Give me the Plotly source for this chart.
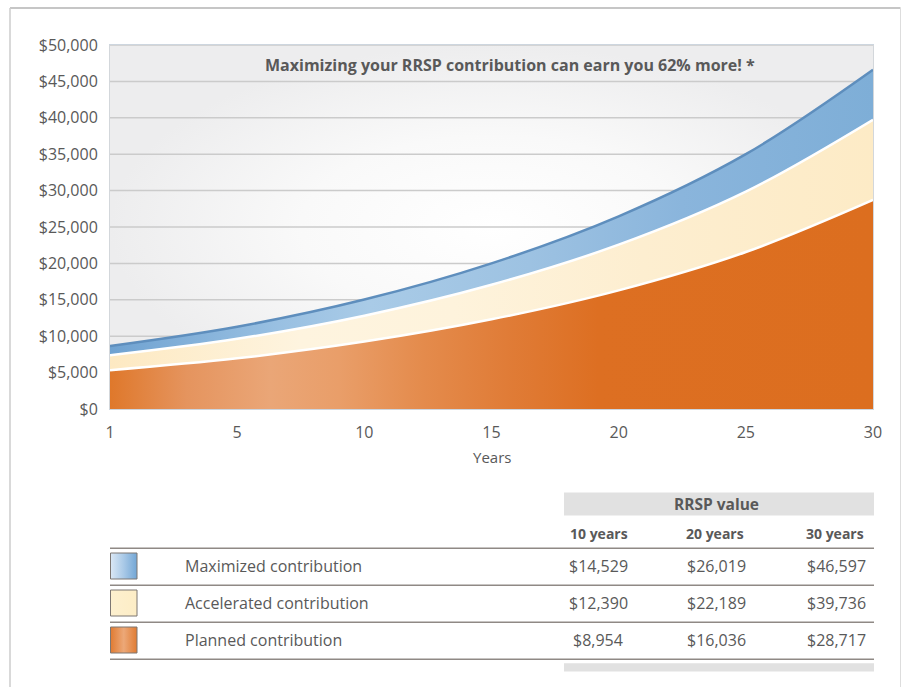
import plotly.graph_objects as go

# ---------------- data ----------------
# x positions on the axis (the first position carries the label "1")
years = [0, 5, 10, 15, 20, 25, 30]
maximized = [8650, 11300, 15030, 20000, 26460, 35000, 46597]
accelerated = [7380, 9640, 12820, 17060, 22570, 29860, 39736]
planned = [5330, 6960, 9260, 12320, 16300, 21560, 28717]

x_ticks = [0, 5, 10, 15, 20, 25, 30]
x_tick_labels = ["1", "5", "10", "15", "20", "25", "30"]
y_ticks = [0, 5000, 10000, 15000, 20000, 25000, 30000, 35000, 40000, 45000, 50000]

row_names = ["Maximized contribution", "Accelerated contribution", "Planned contribution"]
col_names = ["10 years", "20 years", "30 years"]
table_values = [
    [14529, 26019, 46597],
    [12390, 22189, 39736],
    [8954, 16036, 28717],
]
title_text = "Maximizing your RRSP contribution can earn you 62% more! *"

# ---------------- geometry (layout only) ----------------
W, H = 902, 687
PL, PR, PT, PB = 110, 873, 45, 409   # plot area in pixels


def px(x):
    return x / W


def py(y):
    return 1 - y / H


FONT = "Open Sans"
TXT = "#595959"

fig = go.Figure()

# background gradient of plot area
fig.add_trace(go.Scatter(
    x=[x_ticks[0], x_ticks[-1], x_ticks[-1], x_ticks[0], x_ticks[0]],
    y=[y_ticks[0], y_ticks[0], y_ticks[-1], y_ticks[-1], y_ticks[0]],
    mode="none", fill="toself",
    fillgradient=dict(type="radial",
                      colorscale=[[0, "#ffffff"], [0.5, "#f9f9f9"], [1, "#ededee"]]),
    hoverinfo="skip", showlegend=False, xaxis="x", yaxis="y",
))

# gridlines (beneath the areas)
gx, gy = [], []
for v in y_ticks[1:]:
    gx += [x_ticks[0], x_ticks[-1], None]
    gy += [v, v, None]
fig.add_trace(go.Scatter(x=gx, y=gy, mode="lines",
                         line=dict(color="#cbcbcb", width=1.5),
                         hoverinfo="skip", showlegend=False))

planned_scale = [[0, "#df782b"], [0.10, "#e5945e"], [0.21, "#eaa677"], [0.30, "#e99e69"],
                 [0.41, "#e48b4c"], [0.52, "#e07c37"], [0.64, "#dd6f22"], [1, "#dc6e1f"]]
accel_scale = [[0, "#fde9c2"], [0.25, "#fef4df"], [0.45, "#fef3dc"], [0.7, "#fdeed0"], [1, "#fdebc6"]]
max_scale = [[0, "#6fa2d1"], [0.22, "#99c0e2"], [0.34, "#a9cbe7"], [0.55, "#9dc2e2"],
             [0.75, "#8ab5dc"], [1, "#7eaed7"]]

fig.add_trace(go.Scatter(
    x=years, y=planned, mode="lines", fill="tozeroy",
    line=dict(color="#ffffff", width=2.5, shape="spline", smoothing=1.0),
    fillgradient=dict(type="horizontal", colorscale=planned_scale),
    name=row_names[2], showlegend=False,
))
fig.add_trace(go.Scatter(
    x=years, y=accelerated, mode="lines", fill="tonexty",
    line=dict(color="#ffffff", width=2.5, shape="spline", smoothing=1.0),
    fillgradient=dict(type="horizontal", colorscale=accel_scale),
    name=row_names[1], showlegend=False,
))
fig.add_trace(go.Scatter(
    x=years, y=maximized, mode="lines", fill="tonexty",
    line=dict(color="#5e8ebd", width=2.5, shape="spline", smoothing=1.0),
    fillgradient=dict(type="horizontal", colorscale=max_scale),
    name=row_names[0], showlegend=False,
))

# legend swatches (gradient) drawn on a full-figure pixel subplot
swatch_scales = [
    [[0, "#dbe8f5"], [0.5, "#a9c9e7"], [1, "#72a6d5"]],
    [[0, "#fdf0cf"], [1, "#fdedc6"]],
    [[0, "#e07b32"], [0.5, "#eca878"], [1, "#e07b32"]],
]
row_centers = [566, 603, 640]
for sc, rc in zip(swatch_scales, row_centers):
    fig.add_trace(go.Scatter(
        x=[110.5, 137, 137, 110.5, 110.5],
        y=[rc - 13, rc - 13, rc + 13, rc + 13, rc - 13],
        mode="lines", fill="toself",
        line=dict(color="#7d7773", width=1),
        fillgradient=dict(type="horizontal", colorscale=sc),
        hoverinfo="skip", showlegend=False, xaxis="x2", yaxis="y2",
    ))

fig.update_layout(
    xaxis=dict(
        domain=[PL / W, PR / W], anchor="y",
        range=[x_ticks[0], x_ticks[-1]], tickvals=x_ticks, ticktext=x_tick_labels,
        showgrid=False, zeroline=False, showline=True, mirror=True,
        linecolor="#cdd6df", linewidth=1, automargin=False,
        ticks="outside", ticklen=9, tickcolor="rgba(0,0,0,0)",
        tickfont=dict(family=FONT, size=16, color=TXT),
    ),
    yaxis=dict(
        domain=[1 - PB / H, 1 - PT / H], anchor="x",
        range=[y_ticks[0], y_ticks[-1]], tickvals=y_ticks,
        ticktext=[f"${v:,}" for v in y_ticks],
        showgrid=False, zeroline=False, showline=True, mirror=True,
        linecolor="#d3d7db", linewidth=1, automargin=False,
        ticks="outside", ticklen=8, tickcolor="rgba(0,0,0,0)",
        tickfont=dict(family=FONT, size=16, color=TXT),
    ),
    xaxis2=dict(domain=[0, 1], anchor="y2", range=[0, W], visible=False, automargin=False),
    yaxis2=dict(domain=[0, 1], anchor="x2", range=[H, 0], visible=False, automargin=False),
)

annotations = []
shapes = []

annotations.append(dict(x=px(510), y=py(65), xref="paper", yref="paper",
                        text=f"<b>{title_text}</b>", showarrow=False,
                        font=dict(family=FONT, size=16, color=TXT),
                        xanchor="center", yanchor="middle"))
annotations.append(dict(x=px(492), y=py(457), xref="paper", yref="paper",
                        text="Years", showarrow=False,
                        font=dict(family=FONT, size=15, color=TXT),
                        xanchor="center", yanchor="middle"))

# outer frame
shapes.append(dict(type="line", xref="paper", yref="paper",
                   x0=px(10), x1=px(900.5), y0=py(8), y1=py(8),
                   line=dict(color="#b3b3b3", width=1.5)))
shapes.append(dict(type="line", xref="paper", yref="paper",
                   x0=px(10), x1=px(10), y0=py(8), y1=py(700),
                   line=dict(color="#cccccc", width=1.5)))
shapes.append(dict(type="line", xref="paper", yref="paper",
                   x0=px(900.5), x1=px(900.5), y0=py(8), y1=py(700),
                   line=dict(color="#dddddd", width=1)))

# table header bar
shapes.append(dict(type="rect", xref="paper", yref="paper",
                   x0=px(564), x1=px(874), y0=py(492.5), y1=py(515.5),
                   fillcolor="#e1e1e1", line=dict(width=0)))
annotations.append(dict(x=px(716), y=py(504), xref="paper", yref="paper",
                        text="<b>RRSP value</b>", showarrow=False,
                        font=dict(family=FONT, size=15.5, color=TXT),
                        xanchor="center", yanchor="middle"))
col_centers = [599, 715, 835]
for c, name in zip(col_centers, col_names):
    annotations.append(dict(x=px(c), y=py(533), xref="paper", yref="paper",
                            text=f"<b>{name}</b>", showarrow=False,
                            font=dict(family=FONT, size=14, color=TXT),
                            xanchor="center", yanchor="middle"))
for yl in [548.3, 585.3, 622.3, 659.3]:
    shapes.append(dict(type="line", xref="paper", yref="paper",
                       x0=px(110), x1=px(874), y0=py(yl), y1=py(yl),
                       line=dict(color="#8f8985", width=1.5)))
shapes.append(dict(type="rect", xref="paper", yref="paper",
                   x0=px(564), x1=px(874), y0=py(663.3), y1=py(671.5),
                   fillcolor="#e1e1e1", line=dict(width=0)))

val_centers = [598, 716, 836]
for i, (rc, name) in enumerate(zip(row_centers, row_names)):
    annotations.append(dict(x=px(183), y=py(rc), xref="paper", yref="paper",
                            text=name, showarrow=False,
                            font=dict(family=FONT, size=16, color=TXT),
                            xanchor="left", yanchor="middle"))
    for vc, v in zip(val_centers, table_values[i]):
        annotations.append(dict(x=px(vc), y=py(rc), xref="paper", yref="paper",
                                text=f"${v:,}", showarrow=False,
                                font=dict(family=FONT, size=16, color=TXT),
                                xanchor="center", yanchor="middle"))

fig.update_layout(
    width=W, height=H,
    margin=dict(l=0, r=0, t=0, b=0, pad=0),
    paper_bgcolor="#ffffff", plot_bgcolor="rgba(0,0,0,0)",
    showlegend=False,
    annotations=annotations, shapes=shapes,
)

fig.write_html("out.html")
